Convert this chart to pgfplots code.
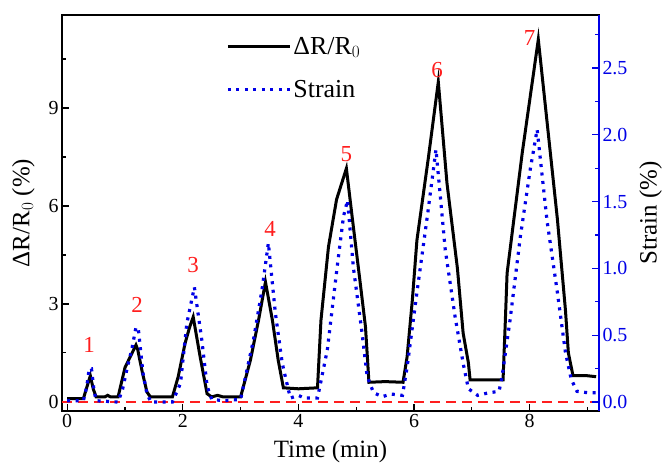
\documentclass[border=0pt]{standalone}
\usepackage{fontspec}
\setmainfont{Liberation Serif}
\usepackage{pgfplots}
\pgfplotsset{compat=1.18}
\usetikzlibrary{calc}

\definecolor{strainblue}{RGB}{0,0,230}
\definecolor{numred}{RGB}{255,30,30}

\begin{document}
\begin{tikzpicture}
\pgfplotsset{
  every axis/.append style={
    scale only axis, width=537bp, height=396bp,
    xmin=-0.09, xmax=9.2,
    tick align=inside,
    major tick length=7bp, minor tick length=4bp,
    every tick/.style={line width=1.2bp},
    axis line style={line width=1.3bp},
    /pgf/number format/assume math mode=true,
    tick label style={font=\fontsize{20}{24}\selectfont},
    label style={font=\fontsize{25}{30}\selectfont},
  }
}
\begin{axis}[
  name=ax1,
  ymin=-0.28, ymax=11.85,
  xtick={0,2,4,6,8}, minor xtick={1,3,5,7,9},
  ytick={0,3,6,9}, minor ytick={1.5,4.5,7.5,10.5},
  xtick pos=lower, ytick pos=left,
  xlabel={Time (min)},
  ylabel={ΔR/R$_0$ (\%)},
  xlabel style={yshift=-5bp},
  ylabel shift=7bp,
]
\addplot[numred, line width=1.8bp, dash pattern=on 10bp off 6bp] coordinates {(-0.09,0) (9.2,0)};
\addplot[black, line width=3bp] coordinates {
(0,0.1) (0.28,0.1) (0.34,0.45) (0.40,0.8) (0.45,0.4) (0.50,0.15) (0.65,0.15) (0.7,0.2) (0.75,0.15)
(0.88,0.15) (0.94,0.6) (1.0,1.05) (1.09,1.38) (1.19,1.74) (1.22,1.6) (1.30,0.9) (1.38,0.3) (1.44,0.15)
(1.82,0.15) (1.92,0.77) (2.04,1.8) (2.12,2.3) (2.18,2.6) (2.3,1.38) (2.42,0.25) (2.5,0.15) (2.6,0.2) (2.7,0.15)
(3.0,0.15) (3.17,1.28) (3.31,2.5) (3.43,3.67) (3.55,2.5) (3.65,1.28) (3.74,0.43) (4.0,0.4) (4.33,0.43)
(4.39,2.5) (4.52,4.75) (4.66,6.2) (4.83,7.15) (4.93,5.66) (5.07,3.63) (5.16,2.3) (5.22,0.6) (5.5,0.62) (5.81,0.6)
(5.88,1.38) (5.97,3.1) (6.05,4.95) (6.25,7.5) (6.42,9.8) (6.57,6.7) (6.75,4.1) (6.85,2.1) (6.94,1.2) (6.97,0.67)
(7.3,0.67) (7.54,0.67) (7.58,2.5) (7.61,3.94) (7.87,7.6) (8.15,11.1) (8.3,8.6) (8.48,5.6) (8.62,2.8) (8.67,1.5)
(8.75,0.8) (9.0,0.8) (9.15,0.77)
};
\node[numred, font=\fontsize{23}{27}\selectfont] at (axis cs:0.38,1.74) {1};
\node[numred, font=\fontsize{23}{27}\selectfont] at (axis cs:1.21,2.97) {2};
\node[numred, font=\fontsize{23}{27}\selectfont] at (axis cs:2.18,4.2) {3};
\node[numred, font=\fontsize{23}{27}\selectfont] at (axis cs:3.51,5.3) {4};
\node[numred, font=\fontsize{23}{27}\selectfont] at (axis cs:4.83,7.6) {5};
\node[numred, font=\fontsize{23}{27}\selectfont] at (axis cs:6.40,10.15) {6};
\node[numred, font=\fontsize{23}{27}\selectfont] at (axis cs:8.0,11.15) {7};
\end{axis}

\begin{axis}[
  ymin=-0.067, ymax=2.897,
  axis x line=none,
  axis y line*=right,
  ytick={0,0.5,1,1.5,2,2.5},
  minor ytick={0.25,0.75,1.25,1.75,2.25,2.75},
  y axis line style={strainblue},
  every y tick/.style={strainblue, line width=1.2bp},
  every minor y tick/.style={strainblue, line width=1.2bp},
  yticklabel style={strainblue, /pgf/number format/fixed, /pgf/number format/fixed zerofill, /pgf/number format/precision=1},
  ylabel={Strain (\%)},
  ylabel shift=5bp,
  legend style={at={(axis description cs:0.30,0.955)}, anchor=north west,
    draw=none, fill=none, font=\fontsize{26}{30}\selectfont, row sep=21bp},
  legend cell align=left,
  legend image code/.code={\draw[#1] (0bp,0bp) -- (62bp,0bp);},
]
\addlegendimage{black, line width=3bp}
\addlegendentry{ΔR/R$_0$}
\addplot[strainblue, line width=3.2bp, dash pattern=on 3bp off 5.5bp] coordinates {
(0,0.01) (0.28,0.01) (0.34,0.12) (0.38,0.25) (0.42,0.25) (0.46,0.1) (0.5,0.01) (0.88,0.0) (0.96,0.1) (1.04,0.26)
(1.12,0.4) (1.19,0.56) (1.23,0.55) (1.31,0.22) (1.38,0.06) (1.45,0.0) (1.82,0.0) (1.96,0.14) (2.07,0.59) (2.2,0.86)
(2.33,0.46) (2.42,0.12) (2.5,0.02) (2.7,0.01) (3.0,0.02) (3.22,0.46) (3.37,0.84) (3.48,1.19) (3.6,0.67)
(3.72,0.29) (3.86,0.03) (4.0,0.05) (4.1,0.03) (4.33,0.03) (4.5,0.39) (4.67,1.01) (4.78,1.39) (4.85,1.51)
(4.95,1.01) (5.1,0.52) (5.19,0.19) (5.3,0.07) (5.45,0.04) (5.6,0.06) (5.8,0.05) (5.88,0.26) (6.05,0.82)
(6.23,1.39) (6.38,1.89) (6.54,1.14) (6.71,0.64) (6.85,0.29) (6.94,0.1) (7.1,0.05) (7.3,0.07) (7.47,0.08)
(7.52,0.18) (7.66,0.61) (7.84,1.24) (8.01,1.74) (8.13,2.04) (8.3,1.36) (8.48,0.82) (8.62,0.37) (8.72,0.17)
(8.82,0.08) (9.0,0.07) (9.15,0.07)
};
\addlegendentry{Strain}
\end{axis}
\pgfresetboundingbox
\path[use as bounding box] ($(ax1.south west)+(-62bp,-53bp)$) rectangle ($(ax1.north east)+(69bp,15bp)$);
\end{tikzpicture}
\end{document}
